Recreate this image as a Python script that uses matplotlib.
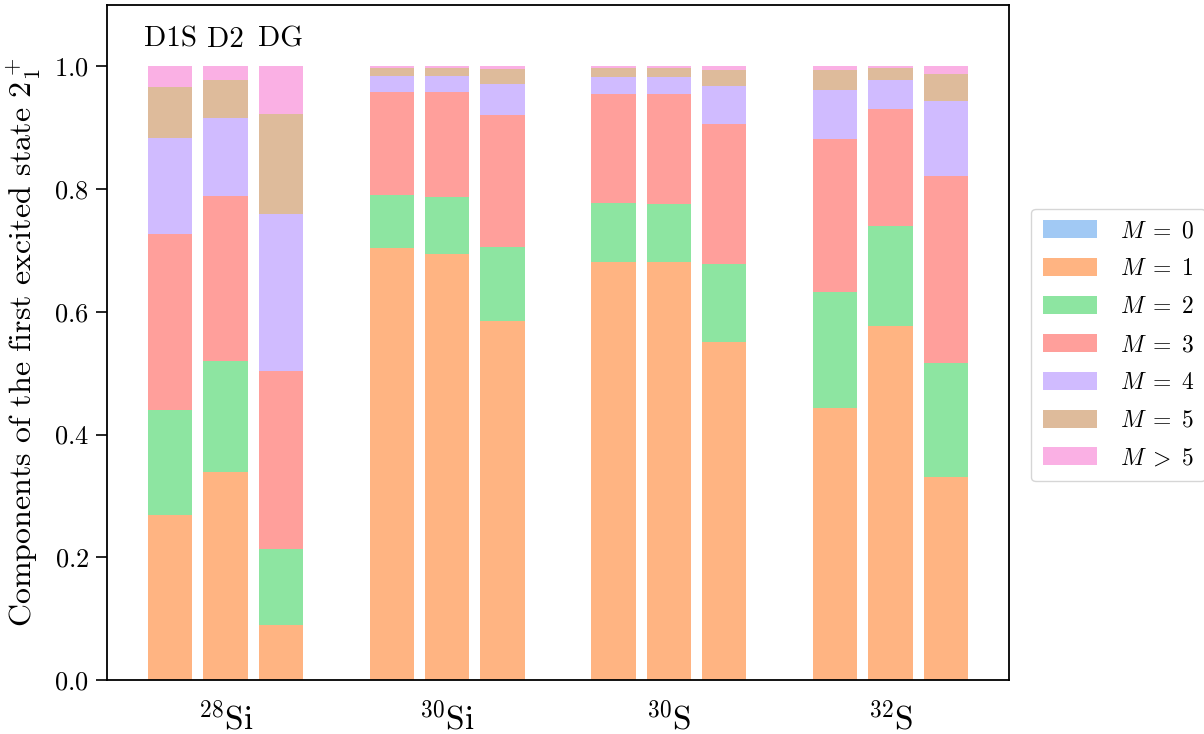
import matplotlib
matplotlib.use("Agg")
import matplotlib.pyplot as plt
import numpy as np

plt.rcParams["font.family"] = "serif"
plt.rcParams["font.serif"] = ["cmr10"]
plt.rcParams["mathtext.fontset"] = "cm"
plt.rcParams["axes.formatter.use_mathtext"] = True

nuclei = [r"$^{28}$Si", r"$^{30}$Si", r"$^{30}$S", r"$^{32}$S"]
methods = ["D1S", "D2", "DG"]
labels = [r"$M\;=\;0$", r"$M\;=\;1$", r"$M\;=\;2$", r"$M\;=\;3$",
          r"$M\;=\;4$", r"$M\;=\;5$", r"$M\;>\;5$"]
colors = ["#a1c9f4", "#ffb482", "#8de5a1", "#ff9f9b", "#d0bbff", "#debb9b", "#fab0e4"]

# bars ordered nucleus by nucleus, D1S / D2 / DG inside each group
m0 = [0.000, 0.000, 0.000, 0.000, 0.000, 0.000, 0.000, 0.000, 0.000, 0.000, 0.000, 0.000]
m1 = [0.269, 0.339, 0.090, 0.704, 0.695, 0.585, 0.682, 0.682, 0.551, 0.444, 0.577, 0.331]
m2 = [0.171, 0.181, 0.123, 0.086, 0.092, 0.120, 0.095, 0.094, 0.127, 0.189, 0.163, 0.185]
m3 = [0.287, 0.269, 0.290, 0.169, 0.172, 0.215, 0.178, 0.179, 0.228, 0.248, 0.190, 0.305]
m4 = [0.156, 0.127, 0.256, 0.025, 0.025, 0.051, 0.027, 0.027, 0.062, 0.081, 0.048, 0.122]
m5 = [0.083, 0.061, 0.163, 0.013, 0.013, 0.024, 0.015, 0.015, 0.026, 0.032, 0.019, 0.045]
m_rest = [0.034, 0.023, 0.078, 0.003, 0.003, 0.005, 0.003, 0.003, 0.006, 0.006, 0.003, 0.012]

components = [m0, m1, m2, m3, m4, m5, m_rest]

group_pos = np.arange(len(nuclei)) * 4
x = (group_pos[:, None] + np.array([-1, 0, 1])[None, :]).ravel()

fig = plt.figure(figsize=(12.04, 7.34), dpi=100)
ax = fig.add_axes([107 / 1204, 54 / 734, 902 / 1204, 675 / 734])

bottom = np.zeros(len(x))
for vals, lab, col in zip(components, labels, colors):
    vals = np.array(vals)
    ax.bar(x, vals, width=0.8, bottom=bottom, color=col, label=lab)
    bottom += vals

for xi, name in zip(x[:3], methods):
    ax.text(xi, 1.022, name, ha="center", va="bottom", fontsize=21)

ax.set_ylim(0, 1.1)
ax.set_xticks(group_pos)
ax.set_xticklabels(nuclei, fontsize=24)
ax.tick_params(axis="x", length=0, pad=15)
ax.tick_params(axis="y", labelsize=19, length=8, width=1.2, pad=5)
ax.set_ylabel(r"Components of the first excited state $2_1^+$", fontsize=23, labelpad=8)
for sp in ax.spines.values():
    sp.set_linewidth(1.3)

fig.legend(loc="center left", bbox_to_anchor=(1031 / 1204, 1 - 345 / 734),
           fontsize=17, handlelength=2.3, handleheight=0.8, labelspacing=0.66,
           handletextpad=0.95, borderpad=0.5, borderaxespad=0)

fig.savefig("out.png", dpi=100)
